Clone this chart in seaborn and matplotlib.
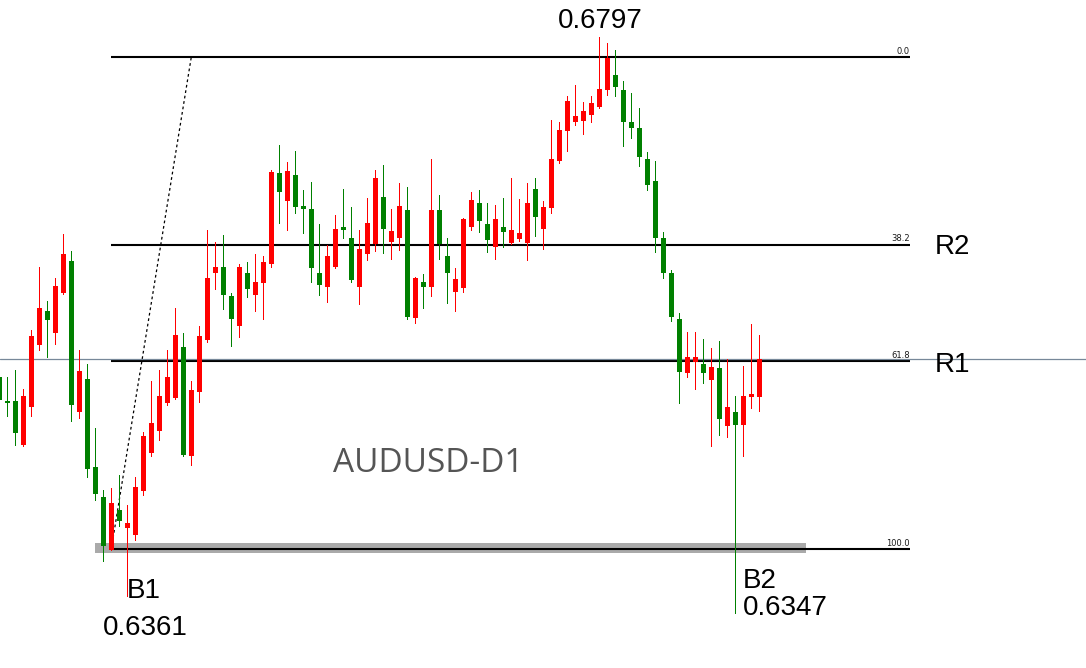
import matplotlib
matplotlib.use("Agg")
import matplotlib.pyplot as plt
import numpy as np
import pandas as pd
import seaborn as sns

# daily AUDUSD candles (left to right)
opens = [
    .6513, .6492, .6492, .6453, .6487, .6542, .6572, .6552, .6588, .6616,
    .6482, .6512, .6434, .6407, .6360, .6396, .6380, .6373, .6412, .6446,
    .6466, .6490, .6495, .6540, .6443, .6500, .6546, .6606, .6611, .6585,
    .6559, .6606, .6586, .6597, .6614, .6694, .6669, .6692, .6665, .6662,
    .6606, .6593, .6611, .6646, .6637, .6593, .6622, .6631, .6673, .6633,
    .6637, .6661, .6566, .6598, .6593, .6661, .6621, .6589, .6592, .6646,
    .6668, .6649, .6629, .6646, .6632, .6636, .6632, .6680, .6645, .6663,
    .6705, .6731, .6739, .6740, .6746, .6753, .6768, .6781, .6768, .6739,
    .6734, .6707, .6687, .6637, .6606, .6565, .6517, .6527, .6525, .6511,
    .6521, .6470, .6482, .6471, .6496, .6496,
]
highs = [
    .6514, .6513, .6520, .6503, .6555, .6611, .6581, .6601, .6640, .6625,
    .6537, .6525, .6468, .6413, .6415, .6427, .6400, .6425, .6465, .6510,
    .6520, .6537, .6575, .6552, .6510, .6559, .6644, .6633, .6639, .6588,
    .6614, .6615, .6622, .6621, .6697, .6719, .6704, .6714, .6679, .6686,
    .6649, .6630, .6657, .6680, .6664, .6644, .6672, .6697, .6701, .6662,
    .6685, .6682, .6602, .6605, .6707, .6675, .6637, .6610, .6654, .6677,
    .6679, .6668, .6666, .6672, .6690, .6671, .6685, .6690, .6669, .6741,
    .6739, .6762, .6772, .6757, .6762, .6815, .6809, .6803, .6776, .6765,
    .6752, .6713, .6705, .6642, .6608, .6570, .6553, .6553, .6547, .6539,
    .6545, .6529, .6497, .6523, .6560, .6551,
]
lows = [
    .6491, .6479, .6453, .6452, .6479, .6537, .6531, .6543, .6587, .6474,
    .6477, .6425, .6404, .6350, .6360, .6381, .6369, .6369, .6409, .6443,
    .6458, .6489, .6494, .6443, .6435, .6491, .6544, .6591, .6574, .6541,
    .6549, .6584, .6572, .6565, .6611, .6650, .6644, .6659, .6641, .6598,
    .6586, .6580, .6610, .6637, .6598, .6578, .6617, .6625, .6623, .6618,
    .6626, .6565, .6561, .6575, .6585, .6618, .6579, .6572, .6589, .6644,
    .6642, .6624, .6618, .6629, .6631, .6634, .6617, .6638, .6627, .6659,
    .6703, .6714, .6737, .6729, .6739, .6752, .6763, .6762, .6718, .6725,
    .6700, .6679, .6624, .6601, .6563, .6490, .6513, .6503, .6508, .6452,
    .6462, .6460, .6431, .6443, .6486, .6483,
]
closes = [
    .6493, .6490, .6464, .6497, .6550, .6575, .6564, .6594, .6622, .6489,
    .6519, .6432, .6410, .6364, .6402, .6386, .6384, .6416, .6461, .6473,
    .6497, .6513, .6551, .6444, .6502, .6550, .6601, .6611, .6586, .6565,
    .6611, .6591, .6598, .6615, .6695, .6677, .6696, .6664, .6662, .6610,
    .6595, .6621, .6645, .6644, .6599, .6627, .6650, .6690, .6645, .6643,
    .6665, .6567, .6601, .6593, .6661, .6631, .6606, .6600, .6653, .6670,
    .6652, .6635, .6653, .6642, .6644, .6641, .6668, .6655, .6664, .6707,
    .6732, .6758, .6745, .6749, .6756, .6769, .6796, .6770, .6739, .6734,
    .6708, .6684, .6637, .6606, .6567, .6518, .6531, .6531, .6517, .6522,
    .6476, .6487, .6471, .6497, .6498, .6529,
]

fib_high = 0.6797
fib_low = 0.6361
fib_levels = [0.0, 38.2, 61.8, 100.0]
fib_labels = ["0.0", "38.2", "61.8", "100.0"]

# vertical marker lines: (candle index, price the line runs down to)
b1_idx, b1_end = 16, 0.6319
b2_idx, b2_end = 92, 0.6304
support_price = 0.6362

W, H = 1086, 668
UP, DOWN = "#ff0000", "#008000"

sns.set_theme(style="white")
plt.rcParams["font.family"] = ["Liberation Sans", "DejaVu Sans"]

df = pd.DataFrame({"open": opens, "high": highs, "low": lows, "close": closes})
df["x"] = np.arange(len(df))
df["color"] = np.where(df["close"] >= df["open"], UP, DOWN)
df["bottom"] = df[["open", "close"]].min(axis=1)
df["body"] = (df["close"] - df["open"]).abs().clip(lower=0.00009)

fig = plt.figure(figsize=(W / 100, H / 100), dpi=100)
ax = fig.add_axes([0, 0, 1, 1])
ax.set_axis_off()

# pixel <-> data helpers (8 px per candle, fib range spans 492 px)
def px2x(px):
    return (px + 0.7) / 8.0

ppu = 492.0 / (fib_high - fib_low)

def py2p(py):
    return fib_high - (py - 57) / ppu

ax.set_xlim(px2x(0), px2x(W))
ax.set_ylim(py2p(H), py2p(0))

# support zone bar
half = 5 / ppu
ax.fill_between([px2x(95), px2x(806)], support_price - half, support_price + half,
                color="#aaaaaa", lw=0, zorder=1)

# fib retracement lines + tiny labels
span = fib_high - fib_low
for lvl, lab in zip(fib_levels, fib_labels):
    p = fib_high - lvl / 100.0 * span
    ax.plot([px2x(111), px2x(910)], [p, p], color="black", lw=1.5, zorder=2,
            solid_capstyle="butt")
    ax.text(px2x(910), p + 1.5 / ppu, lab, fontsize=6, ha="right", va="bottom",
            family="DejaVu Sans", color="#1a1a1a", zorder=5)

# dotted trend line from the low to the high
ax.plot([14, 24], [fib_low, fib_high], color="black", lw=0.9,
        linestyle=(0, (2.2, 2.2)), zorder=2)

# last price line
ax.axhline(closes[-1], color="#778899", lw=0.9, zorder=2)

# candles
wick = 0.72
ax.vlines(df["x"], df["low"], df["high"], colors=df["color"], lw=wick, zorder=3,
          antialiased=False)
ax.bar(df["x"], df["body"], bottom=df["bottom"], width=0.62, color=df["color"],
       lw=0, zorder=4, antialiased=False)

# marker lines down to the B1 / B2 labels
ax.vlines([b1_idx], [b1_end], [lows[b1_idx]], colors=[df["color"][b1_idx]], lw=wick,
          zorder=3, antialiased=False)
ax.vlines([b2_idx], [b2_end], [lows[b2_idx]], colors=[df["color"][b2_idx]], lw=wick,
          zorder=3, antialiased=False)

def label(px, py, s, **kw):
    fig.text(px / W, 1 - py / H, s, va="baseline", **kw)

label(600, 28, "0.6797", fontsize=20, ha="center", color="black")
label(935, 254, "R2", fontsize=20, color="black")
label(935, 372, "R1", fontsize=20, color="black")
label(127, 598, "B1", fontsize=20, color="black")
label(103, 635, "0.6361", fontsize=20, color="black")
label(743, 588, "B2", fontsize=20, color="black")
label(743, 615, "0.6347", fontsize=20, color="black")
label(333, 472, "AUDUSD-D1", fontsize=24, color="#555555", family="Open Sans")

fig.savefig("out.png", dpi=100)
